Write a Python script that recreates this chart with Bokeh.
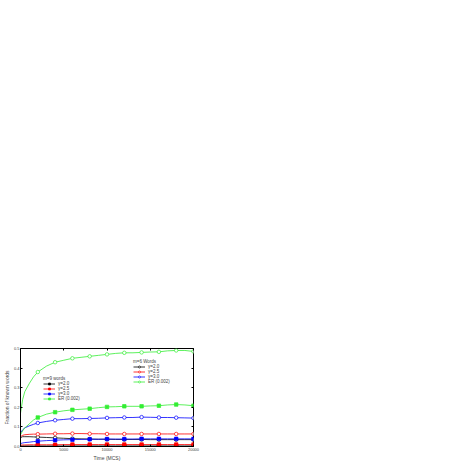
from bokeh.plotting import figure
from bokeh.models import Legend, LegendItem, LinearAxis, CustomJSTickFormatter, FixedTicker
from bokeh.embed import file_html
from bokeh.resources import INLINE

t = [0, 250, 500, 1000, 1500, 2000, 3000, 4000, 5000, 6000, 7000, 8000, 9000, 10000,
     11000, 12000, 13000, 14000, 15000, 16000, 17000, 18000, 19000, 20000]

# m=6 words (open markers)
m6_g20 = [0.045, 0.05, 0.05, 0.05, 0.049, 0.048, 0.046, 0.044, 0.042, 0.04, 0.039, 0.038,
          0.037, 0.037, 0.036, 0.036, 0.036, 0.036, 0.035, 0.035, 0.035, 0.035, 0.035, 0.035]
m6_g25 = [0.05, 0.057, 0.06, 0.062, 0.063, 0.063, 0.064, 0.065, 0.065, 0.066, 0.066, 0.065,
          0.065, 0.064, 0.064, 0.064, 0.064, 0.064, 0.064, 0.064, 0.064, 0.064, 0.064, 0.064]
m6_g30 = [0.07, 0.085, 0.095, 0.105, 0.113, 0.12, 0.128, 0.134, 0.138, 0.142, 0.142, 0.143,
          0.144, 0.146, 0.147, 0.148, 0.148, 0.15, 0.149, 0.148, 0.148, 0.147, 0.146, 0.145]
m6_er = [0.17, 0.24, 0.28, 0.32, 0.355, 0.38, 0.41, 0.43, 0.44, 0.45, 0.455, 0.46,
         0.465, 0.47, 0.475, 0.478, 0.478, 0.48, 0.482, 0.483, 0.488, 0.49, 0.49, 0.485]

# m=9 words (filled markers)
m9_g20 = [0.003, 0.003, 0.003, 0.003, 0.003, 0.003, 0.003, 0.003, 0.003, 0.003, 0.003, 0.003,
          0.003, 0.003, 0.003, 0.003, 0.003, 0.003, 0.003, 0.003, 0.003, 0.003, 0.003, 0.003]
m9_g25 = [0.007, 0.008, 0.008, 0.009, 0.009, 0.009, 0.009, 0.009, 0.01, 0.01, 0.01, 0.01,
          0.01, 0.01, 0.01, 0.01, 0.01, 0.01, 0.01, 0.01, 0.01, 0.01, 0.01, 0.01]
m9_g30 = [0.015, 0.018, 0.02, 0.022, 0.025, 0.027, 0.03, 0.032, 0.034, 0.035, 0.036, 0.037,
          0.037, 0.038, 0.038, 0.038, 0.038, 0.039, 0.039, 0.039, 0.039, 0.039, 0.039, 0.039]
m9_er = [0.06, 0.08, 0.095, 0.115, 0.135, 0.148, 0.165, 0.175, 0.182, 0.187, 0.19, 0.193,
         0.198, 0.202, 0.203, 0.205, 0.205, 0.205, 0.207, 0.208, 0.212, 0.214, 0.212, 0.208]

labels = ["\u03b3=2.0", "\u03b3=2.5", "\u03b3=3.0", "ER (0.002)"]
colors = ["black", "red", "blue", "#33ee33"]
marker_times = [2000, 4000, 6000, 8000, 10000, 12000, 14000, 16000, 18000, 20000]

FONT = "Liberation Sans"

p = figure(width=200, height=463, x_range=(0, 20000), y_range=(0, 0.5),
           output_backend="svg", toolbar_location=None,
           min_border_left=12, min_border_right=7, min_border_top=348, min_border_bottom=9)
p.grid.visible = False
p.outline_line_color = "black"
p.outline_line_width = 1

p.xaxis.ticker = FixedTicker(ticks=[0, 5000, 10000, 15000, 20000])
p.yaxis.ticker = FixedTicker(ticks=[0, 0.1, 0.2, 0.3, 0.4, 0.5])
p.yaxis.formatter = CustomJSTickFormatter(code="return tick.toFixed(1);")
for ax in (p.xaxis, p.yaxis):
    ax.major_tick_in = 2
    ax.major_tick_out = 0
    ax.minor_tick_line_color = None
    ax.major_label_text_font_size = "4px"
    ax.major_label_text_font = FONT
    ax.major_label_standoff = 1
    ax.axis_label_text_font_size = "5px"
    ax.axis_label_text_font = FONT
    ax.axis_label_text_font_style = "normal"
    ax.axis_label_standoff = 1
p.xaxis.axis_label = "Time (MCS)"
p.yaxis.axis_label = "Fraction of known words"

for loc, tk in (("above", [0, 5000, 10000, 15000, 20000]), ("right", [0, 0.1, 0.2, 0.3, 0.4, 0.5])):
    ax = LinearAxis(ticker=FixedTicker(ticks=tk),
                    formatter=CustomJSTickFormatter(code="return '';"),
                    major_tick_in=2, major_tick_out=0, minor_tick_line_color=None,
                    major_label_text_font_size="0px", axis_line_color=None,
                    major_label_standoff=0)
    p.add_layout(ax, loc)

def subset(ys):
    return [ys[t.index(m)] for m in marker_times]

items6, items9 = [], []
for lab, col, ys in zip(labels, colors, [m6_g20, m6_g25, m6_g30, m6_er]):
    lr = p.line(t, ys, line_color=col, line_width=0.8)
    mr = p.scatter(marker_times, subset(ys), marker="circle", size=3.5,
                   line_color=col, fill_color="white", line_width=0.7)
    items6.append(LegendItem(label=lab, renderers=[lr, mr]))
for lab, col, ys in zip(labels, colors, [m9_g20, m9_g25, m9_g30, m9_er]):
    lr = p.line(t, ys, line_color=col, line_width=0.8)
    mr = p.scatter(marker_times, subset(ys), marker="square", size=3.5,
                   line_color=col, fill_color=col, line_width=0.7)
    items9.append(LegendItem(label=lab, renderers=[lr, mr]))

def mk_legend(items, title, loc):
    lg = Legend(items=items, title=title, location=loc,
                label_text_font_size="4.5px", label_text_font=FONT,
                title_text_font_size="4.5px", title_text_font=FONT,
                title_text_font_style="normal", title_standoff=0,
                glyph_width=12, glyph_height=5, label_height=5, label_width=20,
                label_standoff=3, spacing=0, padding=1, margin=0,
                border_line_color=None, background_fill_alpha=0)
    return lg

p.add_layout(mk_legend(items9, "m=9 words", (23, 45)), "center")
p.add_layout(mk_legend(items6, "m=6 Words", (113, 62)), "center")

open("out.html", "w").write(file_html(p, INLINE))
